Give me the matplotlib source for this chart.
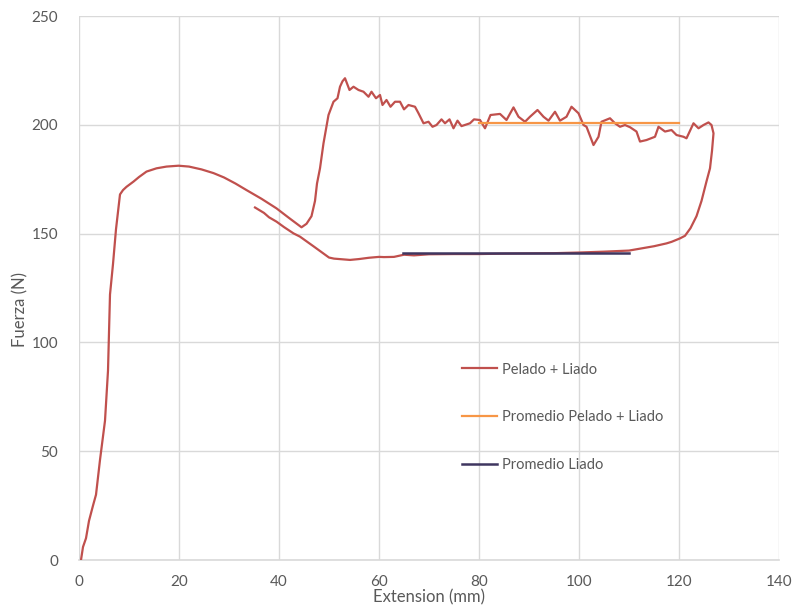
import matplotlib
matplotlib.use("Agg")
import matplotlib.pyplot as plt

# Ensayo de pelado + liado: fuerza frente a extensión
ext_pl = [0.4, 0.8, 1.4, 2.0, 2.8, 3.4, 4.2, 5.2, 5.8, 6.2, 6.8, 7.4, 8.2, 8.8,
          9.5, 10.9, 12.0, 13.5, 15.5, 17.5, 19.9, 22.0, 24.5, 26.9, 29.0, 31.3,
          33.5, 36.5, 39.5, 42.0, 44.5, 45.5, 46.5, 47.2, 47.6, 48.2, 48.9, 49.9,
          50.9, 51.7, 52.2, 52.7, 53.2, 54.1, 54.9, 55.9, 56.9, 57.9, 58.5, 59.4,
          60.2, 60.7, 61.5, 62.3, 63.2, 64.2, 65.0, 65.9, 67.2, 67.9, 68.9, 69.9,
          70.7, 71.5, 72.5, 73.2, 74.1, 74.9, 75.7, 76.5, 78.2, 79.0, 80.2, 81.2,
          82.3, 84.2, 85.5, 86.9, 87.9, 89.2, 90.2, 91.7, 92.9, 93.9, 95.2, 96.2,
          97.5, 98.5, 99.9, 100.9, 101.5, 102.9, 103.9, 104.5, 106.2, 107.2, 108.2,
          109.2, 110.2, 111.5, 112.2, 113.5, 115.2, 115.9, 117.2, 118.5, 119.5,
          120.9, 121.5, 122.9, 123.9, 124.9, 125.9, 126.5, 126.9,
          126.6, 126.2, 125.5, 124.5, 123.5, 122.3, 121.2, 120.2, 118.5, 117.5,
          115.0, 112.0, 110.0, 105.0, 100.0, 95.0, 90.0, 85.0, 80.0, 75.0, 70.0,
          67.0, 65.0, 63.0, 61.0, 60.0, 58.0, 56.0, 54.2, 52.5, 51.0, 50.0, 48.5,
          47.0, 44.2, 42.9, 41.0, 39.5, 38.0, 37.0, 35.2]
fuerza_pl = [0, 6, 10, 18, 25, 30, 46, 64, 87, 122, 136, 152, 168, 170,
             171.5, 173.9, 176, 178.5, 180, 180.8, 181.2, 180.8, 179.5, 177.8, 175.8, 173,
             170, 166, 161.6, 157.2, 152.9, 154.5, 158, 165, 173, 180, 191.5, 204.5,
             210.6, 212.2, 217.5, 220, 221.4, 216, 217.5, 216, 215.2, 212.9, 215.2, 212.2,
             213.7, 209.1, 211.4, 208.3, 210.6, 210.6, 207.1, 209.1, 208.3, 205.3, 200.7, 201.4,
             199.1, 199.9, 202.5, 200.7, 202.5, 198.4, 201.9, 199.4, 200.7, 202.5, 202.2, 198.4,
             204.5, 205, 202.2, 208, 203.7, 201.4, 203.7, 206.8, 203.7, 201.9, 206, 201.9,
             203.7, 208.3, 205.3, 199.9, 199.1, 190.7, 194.5, 201.4, 203, 200.7, 199.1,
             199.9, 198.9, 196.9, 192.3, 193, 194.5, 199.1, 196.9, 197.6, 195.3,
             194.5, 193.8, 200.7, 198.4, 199.9, 201.1, 199.9, 196.1,
             188, 180, 174, 165, 158, 152.5, 149, 147.8, 146.2, 145.5,
             144.2, 143, 142.2, 141.7, 141.3, 141, 140.9, 140.8, 140.6, 140.6, 140.5,
             140, 140.3, 139.3, 139.2, 139.3, 138.9, 138.3, 137.9, 138.2, 138.5, 139, 141.5,
             144, 148.6, 150.1, 153, 155.5, 157.5, 159.5, 162]

# Promedios
ext_prom_pl = [80, 120]
fuerza_prom_pl = [200.7, 200.7]
ext_prom_l = [64.7, 110]
fuerza_prom_l = [141.2, 141.2]

x_ticks = [0, 20, 40, 60, 80, 100, 120, 140]
y_ticks = [0, 50, 100, 150, 200, 250]

plt.rcParams['font.family'] = ['Lato', 'DejaVu Sans']
text_col = '#595959'
grid_col = '#d9d9d9'

fig = plt.figure(figsize=(7.94, 6.13), dpi=100)
ax = fig.add_axes([79 / 794, 53 / 613, 700 / 794, 544 / 613])

ax.plot(ext_pl, fuerza_pl, color='#c0504d', lw=1.6, label='Pelado + Liado', zorder=3)
ax.plot(ext_prom_pl, fuerza_prom_pl, color='#f79646', lw=1.6,
        label='Promedio Pelado + Liado', zorder=4)
ax.plot(ext_prom_l, fuerza_prom_l, color='#3f3660', lw=1.8,
        label='Promedio Liado', zorder=4)

ax.set_xlim(0, 140)
ax.set_ylim(0, 250)
ax.set_xticks(x_ticks)
ax.set_yticks(y_ticks)
ax.grid(True, color=grid_col, lw=1)
ax.set_axisbelow(True)
for side in ['top', 'right', 'left']:
    ax.spines[side].set_visible(False)
ax.spines['bottom'].set_color(grid_col)
ax.spines['bottom'].set_linewidth(1.2)
ax.tick_params(length=0, colors=text_col, labelsize=11)
ax.tick_params(axis='x', pad=11)
ax.tick_params(axis='y', pad=15)

ax.set_xlabel('Extension (mm)', color=text_col, fontsize=12, va='center')
ax.set_ylabel('Fuerza (N)', color=text_col, fontsize=12, va='center')
ax.xaxis.set_label_coords(0.5, -0.068)
ax.yaxis.set_label_coords(-0.084, 0.461)

leg = ax.legend(loc='upper left', bbox_to_anchor=(0.529, 0.387), frameon=False,
                fontsize=10.5, handlelength=2.4, handletextpad=0.3,
                labelspacing=2.3)
for t in leg.get_texts():
    t.set_color(text_col)

fig.savefig('out.png', dpi=100)
